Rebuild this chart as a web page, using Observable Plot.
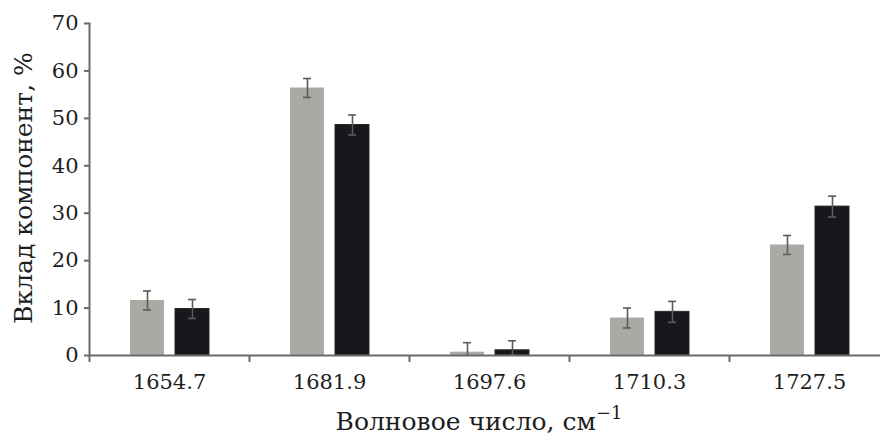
<!DOCTYPE html>
<html>
<head>
<meta charset="utf-8">
<script src="https://cdn.jsdelivr.net/npm/d3@7"></script>
<script src="https://cdn.jsdelivr.net/npm/@observablehq/plot@0.6"></script>
<style>
  html, body { margin: 0; padding: 0; background: #fff; overflow: hidden; }
  #chart svg { display: block; overflow: hidden; }
</style>
</head>
<body>
<div id="chart"></div>
<script>
// Wavenumber categories (cm^-1)
const categories = ["1654.7", "1681.9", "1697.6", "1710.3", "1727.5"];
// Series (grey bars and black bars), % contribution
const seriesNames = ["серия 1", "серия 2"];
const greyValues = [11.6, 56.4, 0.7, 7.9, 23.3];
const blackValues = [9.8, 48.6, 1.1, 9.2, 31.4];
const greyErrors = [2.0, 2.0, 2.0, 2.1, 2.0];
const blackErrors = [2.0, 2.1, 2.0, 2.2, 2.2];
const yTicks = [0, 10, 20, 30, 40, 50, 60, 70];
const xTitle = "Волновое число, см";
const xTitleSup = "−1";
const yTitle = "Вклад компонент, %";

const rows = [];
categories.forEach((c, i) => {
  rows.push({cat: c, series: seriesNames[0], value: greyValues[i], err: greyErrors[i]});
  rows.push({cat: c, series: seriesNames[1], value: blackValues[i], err: blackErrors[i]});
});

const axisColor = "#6a6a6a";
const textColor = "#1e1e1e";
const serif = "DejaVu Serif";

const chart = Plot.plot({
  width: 880,
  height: 437,
  marginTop: 23,
  marginBottom: 82,
  marginLeft: 89,
  marginRight: -9,
  style: {fontFamily: serif, background: "#fff", overflow: "hidden"},
  fx: {domain: categories, padding: 0, label: null, axis: null},
  x: {domain: seriesNames, paddingInner: 0.25, paddingOuter: 0.87, axis: null, label: null},
  y: {domain: [0, 70], label: null, axis: null},
  color: {domain: seriesNames, range: ["#aaaaa5", "#18181c"]},
  marks: [
    Plot.barY(rows, {fx: "cat", x: "series", y: "value", fill: "series", stroke: d => d.series === seriesNames[1] ? "#2a2a2e" : "none", strokeWidth: 1}),
    Plot.ruleX(rows, {fx: "cat", x: "series", y1: d => Math.max(0, d.value - d.err), y2: d => d.value + d.err, stroke: "#5c5c5c", strokeWidth: 1.6}),
    Plot.tickY(rows, {fx: "cat", x: "series", y: d => d.value + d.err, stroke: "#5c5c5c", strokeWidth: 1.6, insetLeft: 13, insetRight: 13}),
    Plot.tickY(rows.filter(d => d.value - d.err > 0), {fx: "cat", x: "series", y: d => d.value - d.err, stroke: "#5c5c5c", strokeWidth: 1.6, insetLeft: 13, insetRight: 13}),
    Plot.ruleY([0], {stroke: axisColor, strokeWidth: 2}),
    Plot.frame({anchor: "left", facetAnchor: "left", stroke: axisColor, strokeWidth: 2}),
    Plot.axisY({ticks: yTicks, tickSize: 5, tickPadding: 6, fontSize: 21, stroke: axisColor, strokeWidth: 2, fill: textColor, label: null}),
    Plot.axisFx({anchor: "bottom", tickSize: 0, tickPadding: 19, fontSize: 21, fill: textColor, label: null}),
    Plot.axisFx({anchor: "bottom", tickSize: 7, tickFormat: () => "", dx: -80, stroke: axisColor, strokeWidth: 2, label: null})
  ]
});

document.getElementById("chart").appendChild(chart);

const svg = d3.select(chart);
const xt = svg.append("text")
  .attr("x", 479)
  .attr("y", 430)
  .attr("text-anchor", "middle")
  .attr("fill", textColor)
  .style("font-size", "25px");
xt.append("tspan").text(xTitle);
xt.append("tspan").attr("dy", -11).style("font-size", "18px").text(xTitleSup);

svg.append("text")
  .attr("transform", "translate(32,188) rotate(-90)")
  .attr("text-anchor", "middle")
  .attr("fill", textColor)
  .style("font-size", "25px")
  .text(yTitle);

svg.selectAll("text").attr("font-family", serif).style("font-family", serif);
</script>
</body>
</html>
